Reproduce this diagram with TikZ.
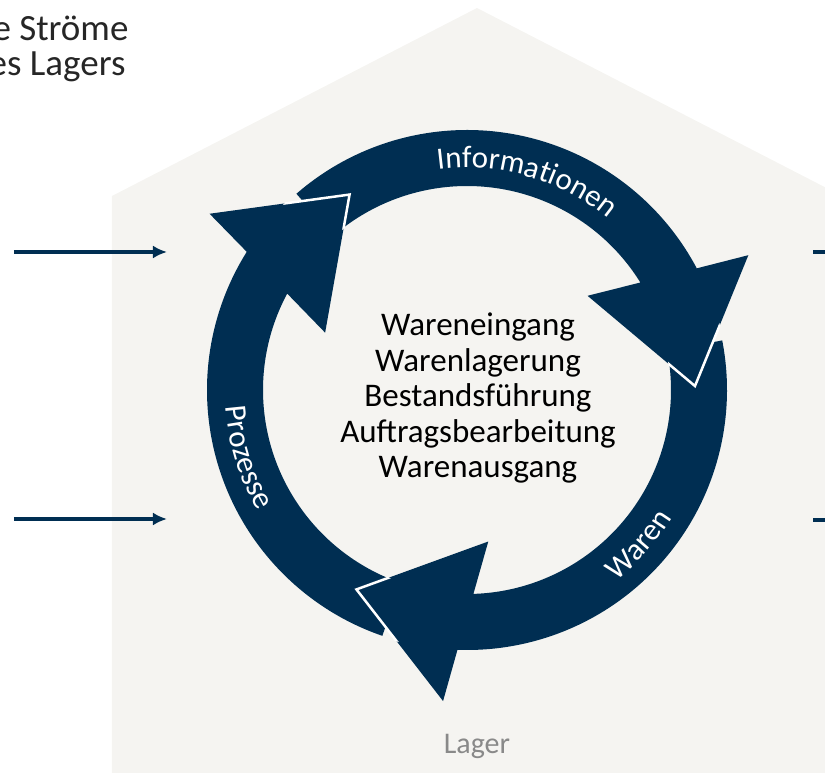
\documentclass[tikz,border=0pt]{standalone}
\usepackage{fontspec}
\setmainfont{Carlito}
\usepackage{tikz}
\usetikzlibrary{arrows.meta}
\usetikzlibrary{decorations.text}
\usetikzlibrary{positioning}
\definecolor{navy}{RGB}{0,46,82}
\definecolor{housebg}{RGB}{245,244,241}
\definecolor{lagergray}{RGB}{137,137,137}
\definecolor{titlegray}{RGB}{38,38,38}
\newcommand{\ringfont}{\fontsize{31}{36}\selectfont}

\begin{document}
\begin{tikzpicture}[x=1pt, y=1pt,
        flow/.style={draw=navy, line width=4pt, -{Latex[length=14pt, width=13pt]}},
        gap/.style={draw=white, line width=2.5pt, line join=miter},
        ringlabel/.style={decorate, decoration={text along path, text align=center, text color=white, text={|\ringfont|#1}}}]
        \useasboundingbox (-467,-383) rectangle (358,390);

        % house
        \fill[housebg] (-355,-383) -- (-355,194) -- (10,382) -- (375,194) -- (375,-383) -- cycle;

        % ring of three arrows
        \foreach \r in {0,-120,-240}
            \fill[navy, rotate=\r] (251:260) arc[start angle=251, end angle=147.9, radius=260] -- (145.6:312) -- (121:228) -- (158:153) -- (151.8:204) arc[start angle=151.8, end angle=251, radius=204] -- cycle;
        \begin{scope}
            \clip (0:261) arc[start angle=0, end angle=360, radius=261] -- cycle (0:203) arc[start angle=360, end angle=0, radius=203] -- cycle;
            \foreach \r in {0,-120,-240}
                \draw[gap, rotate=\r] (145.6:312) -- (121:228) -- (158:153);
        \end{scope}

        \path[ringlabel=Informationen] (114:222) arc[start angle=114, end angle=34, radius=222];
        \path[ringlabel=Waren] (-82:242) arc[start angle=-82, end angle=-2, radius=242];
        \path[ringlabel=Prozesse] (157:242) arc[start angle=157, end angle=237, radius=242];

        \node[align=center, font=\fontsize{33}{35.5}\selectfont] (tasks) at (11,-8) {Wareneingang\\Warenlagerung\\Bestandsführung\\Auftragsbearbeitung\\Warenausgang};
        \node[text=lagergray, font=\fontsize{30}{36}\selectfont] (lager) at (10,-356) {Lager};

        \node[anchor=base east, text=titlegray, font=\fontsize{37}{37}\selectfont] (title1) at (-335,349) {e Ströme};
        \node[anchor=base east, text=titlegray, font=\fontsize{37}{37}\selectfont] (title2) at (-338,314) {es Lagers};

        % flows in and out
        \coordinate (in1) at (-453,138);
        \coordinate (in1end) at (-300,138);
        \coordinate (in2) at (-453,-129);
        \coordinate (in2end) at (-300,-129);
        \coordinate (out1) at (346,138);
        \coordinate (out1end) at (499,138);
        \coordinate (out2) at (346,-130);
        \coordinate (out2end) at (499,-130);
        \draw[flow] (in1) -- (in1end);
        \draw[flow] (in2) -- (in2end);
        \draw[flow] (out1) -- (out1end);
        \draw[flow] (out2) -- (out2end);
\end{tikzpicture}
\end{document}
